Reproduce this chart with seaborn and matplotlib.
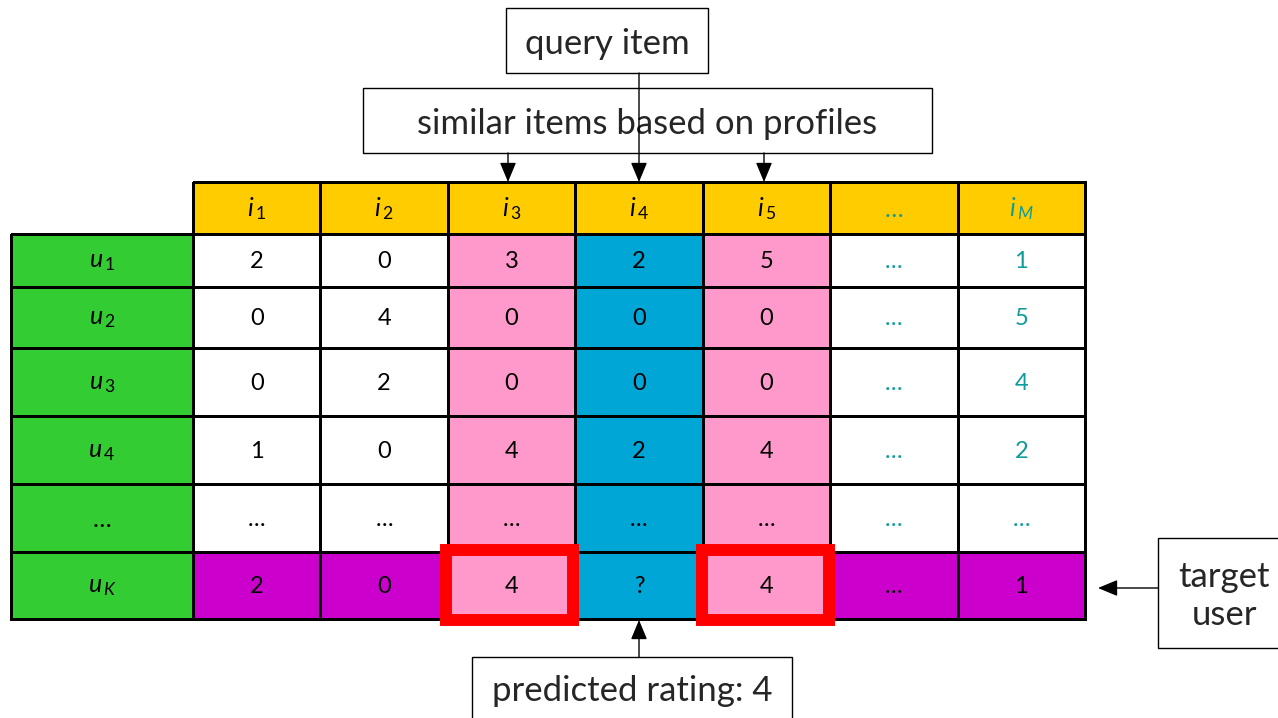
import numpy as np
import matplotlib
matplotlib.use("Agg")
import matplotlib.pyplot as plt
from matplotlib.colors import ListedColormap
from matplotlib.patches import Rectangle
import seaborn as sns

# ---------------- data ----------------
items = [r"$i_{\,\mathit{1}}$", r"$i_{\,\mathit{2}}$", r"$i_{\,\mathit{3}}$", r"$i_{\,\mathit{4}}$",
         r"$i_{\,\mathit{5}}$", "…", r"$i_{\,M}$"]
users = [r"$u_{\,\mathit{1}}$", r"$u_{\,\mathit{2}}$", r"$u_{\,\mathit{3}}$", r"$u_{\,\mathit{4}}$",
         "…", r"$u_{\,K}$"]
ratings = [
    ["2", "0", "3", "2", "5", "…", "1"],
    ["0", "4", "0", "0", "0", "…", "5"],
    ["0", "2", "0", "0", "0", "…", "4"],
    ["1", "0", "4", "2", "4", "…", "2"],
    ["…", "…", "…", "…", "…", "…", "…"],
    ["2", "0", "4", "?", "4", "…", "1"],
]
similar_cols = [2, 4]
query_col = 3
target_row = 5
teal_cols = [5, 6]
predicted = "4"

# ---------------- style ----------------
sns.set_theme(style="white")
plt.rcParams["font.family"] = ["Lato", "DejaVu Sans"]
plt.rcParams["mathtext.fontset"] = "custom"
plt.rcParams["mathtext.rm"] = "Lato"
plt.rcParams["mathtext.it"] = "Lato:italic"
plt.rcParams["mathtext.bf"] = "Lato:bold"

W, H = 1278, 718
fig = plt.figure(figsize=(W / 100, H / 100), dpi=100)
fig.patch.set_facecolor("white")

palette = ["#FFFFFF", "#FF99CC", "#00A6D6", "#CC00CC", "#FFCC00", "#33CC33"]
cmap = ListedColormap(palette)
TEAL = "#0E9C9C"

col_edges = [193, 320, 447, 575, 703, 831, 958, 1085]
left_edges = [11, 193]
header_y = [182, 234]
row_edges = [234, 287, 348, 416, 484, 552, 619]

CELL_FS = 17
LABEL_FS = 18
BOX_FS = 25


def px_axes(x0, x1, y0, y1, z=1):
    return fig.add_axes([x0 / W, 1 - y1 / H, (x1 - x0) / W, (y1 - y0) / H], zorder=z)


def draw_row(x0, x1, y0, y1, codes, labels, colors, fs, z=1):
    ax = px_axes(x0, x1, y0, y1, z)
    sns.heatmap(np.array([codes]), ax=ax, cmap=cmap, vmin=-0.5, vmax=len(palette) - 0.5,
                cbar=False, linewidths=1.8, linecolor="black",
                xticklabels=False, yticklabels=False)
    ax.collections[0].set_clip_on(False)
    for j, (lab, c) in enumerate(zip(labels, colors)):
        ax.text(j + 0.5, 0.52, lab, ha="center", va="center", fontsize=fs, color=c)
    ax.set_axis_off()
    return ax


# header row
draw_row(col_edges[0], col_edges[-1], header_y[0], header_y[1],
         [4] * len(items), items,
         [TEAL if j in teal_cols else "black" for j in range(len(items))], LABEL_FS)

# data rows
for i, u in enumerate(users):
    y0, y1 = row_edges[i], row_edges[i + 1]
    draw_row(left_edges[0], left_edges[1], y0, y1, [5], [u], ["black"], LABEL_FS)
    codes = []
    for j in range(len(items)):
        if j in similar_cols:
            codes.append(1)
        elif j == query_col:
            codes.append(2)
        elif i == target_row:
            codes.append(3)
        else:
            codes.append(0)
    colors = [TEAL if (j in teal_cols and i != target_row) else "black"
              for j in range(len(items))]
    draw_row(col_edges[0], col_edges[-1], y0, y1, codes, ratings[i], colors, CELL_FS)

# ---------------- overlay: boxes & arrows ----------------
ov = fig.add_axes([0, 0, 1, 1], zorder=10)
ov.set_xlim(0, W)
ov.set_ylim(H, 0)
ov.set_axis_off()
ov.patch.set_alpha(0)


def box(x0, y0, x1, y1, text, fs, ty=None, **kw):
    ov.add_patch(Rectangle((x0, y0), x1 - x0, y1 - y0, facecolor="white",
                           edgecolor="black", lw=1.0, zorder=2))
    ov.text((x0 + x1) / 2, (y0 + y1) / 2 + 3 if ty is None else ty, text,
            ha="center", va="center", fontsize=fs, zorder=3, **kw)


def arrow(x0, y0, x1, y1):
    ov.annotate("", xy=(x1, y1), xytext=(x0, y0), zorder=5,
                arrowprops=dict(arrowstyle="-|>,head_length=0.6,head_width=0.25",
                                lw=1.0, color="black", mutation_scale=20,
                                shrinkA=0, shrinkB=0))


box(506, 8, 708, 73, "query item", BOX_FS)
box(363, 88, 932, 153, "similar items based on profiles", BOX_FS)
box(472, 657, 792, 740, "predicted rating: " + predicted, BOX_FS, ty=691)
box(1158, 538, 1290, 648, "target\nuser", BOX_FS, ty=596, linespacing=1.25)

xc = [(col_edges[j] + col_edges[j + 1]) / 2 for j in range(len(items))]
for j in similar_cols:
    arrow(xc[j] - 3, 153, xc[j] - 3, 182)
arrow(xc[query_col], 73, xc[query_col], 182)
arrow(xc[query_col], 657, xc[query_col], 620)
arrow(1158, 588, 1098, 588)

# red highlight boxes around neighbour ratings of target user
for j in similar_cols:
    x0 = col_edges[j] - 1
    x1 = col_edges[j + 1] - 2
    ov.add_patch(Rectangle((x0, 550), x1 - x0, 69.5, facecolor="none",
                           edgecolor="#FF0000", lw=8.6, zorder=4))

fig.savefig("out.png", dpi=100)
